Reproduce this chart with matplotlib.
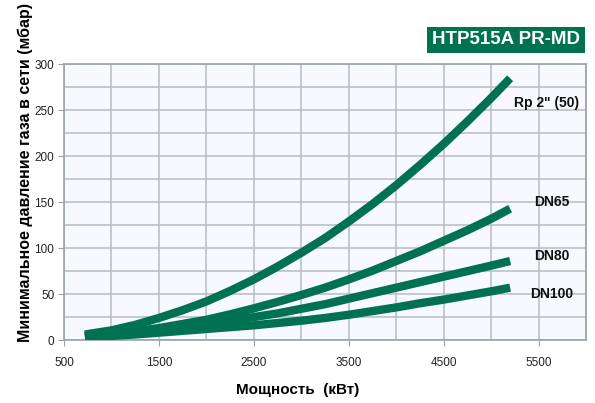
import numpy as np
import matplotlib
matplotlib.use("Agg")
import matplotlib.pyplot as plt
from matplotlib.ticker import MultipleLocator

# ------------------------------
# Data
# ------------------------------
power_kw = [720, 1000, 1250, 1500, 1750, 2000, 2250, 2500, 2750, 3000,
            3250, 3500, 3750, 4000, 4250, 4500, 4750, 5000, 5200]
rp2 = [6, 10.5, 16.5, 24, 32.5, 42, 53.5, 66, 80, 95,
       111, 129, 148, 168.5, 190.5, 213.5, 238, 263.5, 285]
dn65 = [4, 6.5, 9.5, 13, 17.5, 22, 28, 34.5, 41.5, 49,
        57, 66, 75.5, 86, 96.5, 108, 119.5, 132, 143]
dn80 = [4, 6, 8, 11, 14, 17, 21, 25, 29, 34,
        39, 45, 51, 57, 63, 69, 75, 81, 86]
dn100 = [3, 4.5, 6, 8, 10, 12, 14, 16, 18.5, 21,
         24, 27.5, 31.5, 35.5, 40, 44, 48.5, 53, 57]

series_names = ['Rp 2" (50)', "DN65", "DN80", "DN100"]
label_pos = [(5580, 258), (5640, 150), (5640, 91), (5640, 50)]

x_ticks = [500, 1500, 2500, 3500, 4500, 5500]
y_ticks = [0, 50, 100, 150, 200, 250, 300]

GREEN = "#00724f"
plt.rcParams['font.family'] = ['Liberation Sans', 'DejaVu Sans']

fig = plt.figure(figsize=(5.95, 4.03), dpi=100)
ax = fig.add_axes([0.1076, 0.1563, 0.8774, 0.6837])
ax.set_facecolor("#f7f9fc")

for ys in [rp2, dn65, dn80, dn100]:
    ax.plot(power_kw, ys, color=GREEN, lw=6, solid_capstyle='butt',
            solid_joinstyle='round', zorder=3)

for name, (lx, ly) in zip(series_names, label_pos):
    ax.text(lx, ly, name, ha='center', va='center', fontsize=10,
            fontweight='bold', color='#111111', zorder=4)

ax.set_xlim(500, 6000)
ax.set_ylim(0, 300)
ax.set_xticks(x_ticks)
ax.set_yticks(y_ticks)
ax.xaxis.set_minor_locator(MultipleLocator(500))
ax.yaxis.set_minor_locator(MultipleLocator(25))
ax.grid(which='both', color='#b9c1c8', lw=1.2, zorder=0)
ax.set_axisbelow(True)
ax.tick_params(which='major', length=4, color='#9aa3ab', labelsize=8.5,
               labelcolor='#222222', pad=3)
ax.tick_params(axis='x', pad=8)
ax.tick_params(which='minor', length=0)
for s in ax.spines.values():
    s.set_color('#9aa3ab')
    s.set_linewidth(1.2)

fig.text(0.043, 0.573, "Минимальное давление газа в сети (мбар)", rotation=90,
         ha='center', va='center', fontsize=11.5, fontweight='bold')
fig.text(0.50, 0.033, "Мощность  (кВт)", ha='center', va='center',
         fontsize=11, fontweight='bold')

fig.text(0.975, 0.901, "HTP515A PR-MD", ha='right', va='center', fontsize=13.5,
         fontweight='bold', color='white',
         bbox=dict(boxstyle='square,pad=0.25', fc=GREEN, ec='none'))

fig.savefig("out.png", dpi=100)
